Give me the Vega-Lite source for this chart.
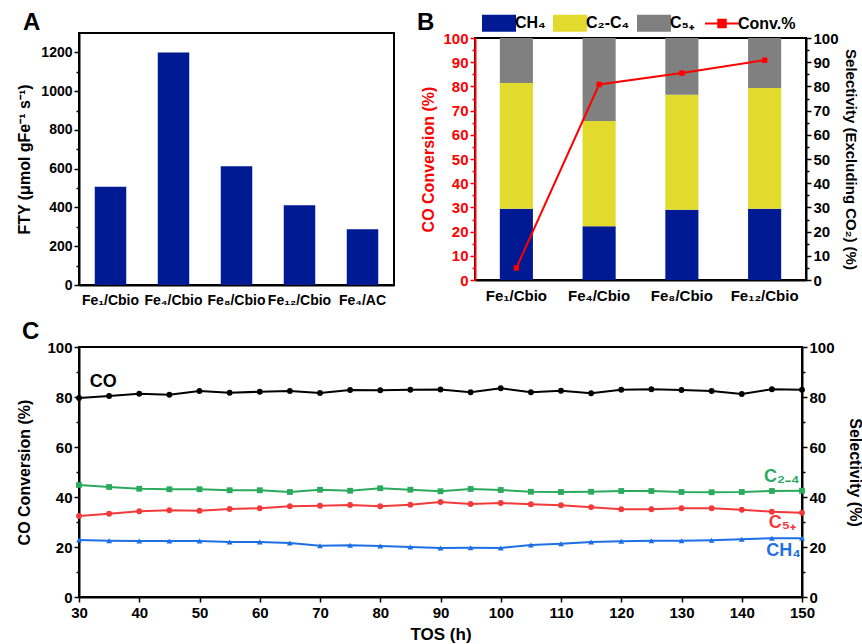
{
  "$schema": "https://vega.github.io/schema/vega-lite/v6.json",
  "background": "white",
  "padding": {"left": 15, "top": 10, "right": 0, "bottom": 0},
  "config": {
    "font": "Liberation Sans",
    "view": {"stroke": "black", "strokeWidth": 2},
    "axis": {
      "labelFont": "Liberation Sans", "labelFontWeight": "bold", "labelFontSize": 14, "labelColor": "black",
      "titleFont": "Liberation Sans", "titleFontWeight": "bold", "titleFontSize": 16, "titleColor": "black",
      "domainColor": "black", "domainWidth": 2, "tickColor": "black", "tickWidth": 1.5, "tickSize": 5,
      "grid": false, "labelOverlap": false, "labelFlush": false, "zindex": 1
    },
    "title": {"font": "Liberation Sans", "fontSize": 24, "fontWeight": "bold", "anchor": "start", "frame": "group", "offset": 3, "color": "black"}
  },
  "datasets": {
    "fty": [
      {"catalyst": "Fe₁/Cbio", "fty": 507},
      {"catalyst": "Fe₄/Cbio", "fty": 1200},
      {"catalyst": "Fe₈/Cbio", "fty": 612},
      {"catalyst": "Fe₁₂/Cbio", "fty": 412},
      {"catalyst": "Fe₄/AC", "fty": 288}
    ],
    "sel": [
      {"catalyst": "Fe₁/Cbio", "comp": "CH₄", "value": 29.4},
      {"catalyst": "Fe₁/Cbio", "comp": "C₂-C₄", "value": 52.0},
      {"catalyst": "Fe₁/Cbio", "comp": "C₅₊", "value": 18.6},
      {"catalyst": "Fe₄/Cbio", "comp": "CH₄", "value": 22.2},
      {"catalyst": "Fe₄/Cbio", "comp": "C₂-C₄", "value": 43.5},
      {"catalyst": "Fe₄/Cbio", "comp": "C₅₊", "value": 34.3},
      {"catalyst": "Fe₈/Cbio", "comp": "CH₄", "value": 29.0},
      {"catalyst": "Fe₈/Cbio", "comp": "C₂-C₄", "value": 47.6},
      {"catalyst": "Fe₈/Cbio", "comp": "C₅₊", "value": 23.4},
      {"catalyst": "Fe₁₂/Cbio", "comp": "CH₄", "value": 29.4},
      {"catalyst": "Fe₁₂/Cbio", "comp": "C₂-C₄", "value": 49.9},
      {"catalyst": "Fe₁₂/Cbio", "comp": "C₅₊", "value": 20.7}
    ],
    "conv": [
      {"catalyst": "Fe₁/Cbio", "conv": 5.0},
      {"catalyst": "Fe₄/Cbio", "conv": 80.8},
      {"catalyst": "Fe₈/Cbio", "conv": 85.5},
      {"catalyst": "Fe₁₂/Cbio", "conv": 90.8}
    ],
    "tos": [
      {"tos": 30, "series": "CO", "v": 79.6}, {"tos": 35, "series": "CO", "v": 80.4}, {"tos": 40, "series": "CO", "v": 81.3}, {"tos": 45, "series": "CO", "v": 80.9}, {"tos": 50, "series": "CO", "v": 82.4},
      {"tos": 55, "series": "CO", "v": 81.7}, {"tos": 60, "series": "CO", "v": 82.1}, {"tos": 65, "series": "CO", "v": 82.4}, {"tos": 70, "series": "CO", "v": 81.6}, {"tos": 75, "series": "CO", "v": 82.8},
      {"tos": 80, "series": "CO", "v": 82.7}, {"tos": 85, "series": "CO", "v": 82.9}, {"tos": 90, "series": "CO", "v": 83.0}, {"tos": 95, "series": "CO", "v": 81.9}, {"tos": 100, "series": "CO", "v": 83.5},
      {"tos": 105, "series": "CO", "v": 81.9}, {"tos": 110, "series": "CO", "v": 82.5}, {"tos": 115, "series": "CO", "v": 81.5}, {"tos": 120, "series": "CO", "v": 82.9}, {"tos": 125, "series": "CO", "v": 83.1},
      {"tos": 130, "series": "CO", "v": 82.8}, {"tos": 135, "series": "CO", "v": 82.4}, {"tos": 140, "series": "CO", "v": 81.2}, {"tos": 145, "series": "CO", "v": 83.1}, {"tos": 150, "series": "CO", "v": 82.9},
      {"tos": 30, "series": "C2-4", "v": 44.8}, {"tos": 35, "series": "C2-4", "v": 44.0}, {"tos": 40, "series": "C2-4", "v": 43.3}, {"tos": 45, "series": "C2-4", "v": 43.1}, {"tos": 50, "series": "C2-4", "v": 43.1},
      {"tos": 55, "series": "C2-4", "v": 42.7}, {"tos": 60, "series": "C2-4", "v": 42.7}, {"tos": 65, "series": "C2-4", "v": 42.0}, {"tos": 70, "series": "C2-4", "v": 42.9}, {"tos": 75, "series": "C2-4", "v": 42.5},
      {"tos": 80, "series": "C2-4", "v": 43.5}, {"tos": 85, "series": "C2-4", "v": 42.9}, {"tos": 90, "series": "C2-4", "v": 42.3}, {"tos": 95, "series": "C2-4", "v": 43.2}, {"tos": 100, "series": "C2-4", "v": 42.8},
      {"tos": 105, "series": "C2-4", "v": 42.1}, {"tos": 110, "series": "C2-4", "v": 42.0}, {"tos": 115, "series": "C2-4", "v": 42.1}, {"tos": 120, "series": "C2-4", "v": 42.4}, {"tos": 125, "series": "C2-4", "v": 42.4},
      {"tos": 130, "series": "C2-4", "v": 42.0}, {"tos": 135, "series": "C2-4", "v": 41.9}, {"tos": 140, "series": "C2-4", "v": 42.0}, {"tos": 145, "series": "C2-4", "v": 42.4}, {"tos": 150, "series": "C2-4", "v": 42.5},
      {"tos": 30, "series": "C5+", "v": 32.4}, {"tos": 35, "series": "C5+", "v": 33.3}, {"tos": 40, "series": "C5+", "v": 34.3}, {"tos": 45, "series": "C5+", "v": 34.7}, {"tos": 50, "series": "C5+", "v": 34.5},
      {"tos": 55, "series": "C5+", "v": 35.2}, {"tos": 60, "series": "C5+", "v": 35.5}, {"tos": 65, "series": "C5+", "v": 36.3}, {"tos": 70, "series": "C5+", "v": 36.5}, {"tos": 75, "series": "C5+", "v": 36.8},
      {"tos": 80, "series": "C5+", "v": 36.3}, {"tos": 85, "series": "C5+", "v": 36.9}, {"tos": 90, "series": "C5+", "v": 38.0}, {"tos": 95, "series": "C5+", "v": 37.2}, {"tos": 100, "series": "C5+", "v": 37.6},
      {"tos": 105, "series": "C5+", "v": 37.1}, {"tos": 110, "series": "C5+", "v": 36.7}, {"tos": 115, "series": "C5+", "v": 35.9}, {"tos": 120, "series": "C5+", "v": 35.1}, {"tos": 125, "series": "C5+", "v": 35.1},
      {"tos": 130, "series": "C5+", "v": 35.5}, {"tos": 135, "series": "C5+", "v": 35.5}, {"tos": 140, "series": "C5+", "v": 34.9}, {"tos": 145, "series": "C5+", "v": 34.1}, {"tos": 150, "series": "C5+", "v": 33.7},
      {"tos": 30, "series": "CH4", "v": 22.8}, {"tos": 35, "series": "CH4", "v": 22.5}, {"tos": 40, "series": "CH4", "v": 22.4}, {"tos": 45, "series": "CH4", "v": 22.4}, {"tos": 50, "series": "CH4", "v": 22.4},
      {"tos": 55, "series": "CH4", "v": 22.0}, {"tos": 60, "series": "CH4", "v": 22.0}, {"tos": 65, "series": "CH4", "v": 21.6}, {"tos": 70, "series": "CH4", "v": 20.5}, {"tos": 75, "series": "CH4", "v": 20.7},
      {"tos": 80, "series": "CH4", "v": 20.4}, {"tos": 85, "series": "CH4", "v": 20.0}, {"tos": 90, "series": "CH4", "v": 19.6}, {"tos": 95, "series": "CH4", "v": 19.7}, {"tos": 100, "series": "CH4", "v": 19.6},
      {"tos": 105, "series": "CH4", "v": 20.8}, {"tos": 110, "series": "CH4", "v": 21.3}, {"tos": 115, "series": "CH4", "v": 22.0}, {"tos": 120, "series": "CH4", "v": 22.3}, {"tos": 125, "series": "CH4", "v": 22.5},
      {"tos": 130, "series": "CH4", "v": 22.5}, {"tos": 135, "series": "CH4", "v": 22.7}, {"tos": 140, "series": "CH4", "v": 23.1}, {"tos": 145, "series": "CH4", "v": 23.5}, {"tos": 150, "series": "CH4", "v": 23.5}
    ],
    "lblLeft": [
      {"tos": 31.8, "v": 85.9, "label": "CO", "series": "CO"}
    ],
    "lblRight": [
      {"tos": 149.6, "v": 48.0, "label": "C₂₋₄", "series": "C2-4"},
      {"tos": 149.0, "v": 29.6, "label": "C₅₊", "series": "C5+"},
      {"tos": 149.8, "v": 18.4, "label": "CH₄", "series": "CH4"}
    ]
  },
  "spacing": 11,
  "resolve": {"scale": {"color": "independent", "shape": "independent"}, "legend": {"color": "independent", "shape": "independent"}},
  "vconcat": [
    {
      "bounds": "flush",
      "spacing": 81,
      "center": true,
      "resolve": {"scale": {"color": "independent"}, "legend": {"color": "independent"}},
      "hconcat": [
        {
          "width": 315,
          "height": 252,
          "title": {"text": "A", "dx": -56, "offset": -2},
          "data": {"name": "fty"},
          "mark": {"type": "bar", "color": "#001A94"},
          "encoding": {
            "x": {
              "field": "catalyst", "type": "nominal", "sort": null,
              "scale": {"paddingInner": 0.5, "paddingOuter": 0.25},
              "axis": {"title": null, "labelAngle": 0, "ticks": false, "labelPadding": 8, "labelFontSize": 14}
            },
            "y": {
              "field": "fty", "type": "quantitative",
              "scale": {"domain": [0, 1300], "nice": false},
              "axis": {
                "title": "FTY (μmol gFe⁻¹ s⁻¹)", "format": "d",
                "values": [0, 100, 200, 300, 400, 500, 600, 700, 800, 900, 1000, 1100, 1200],
                "labelExpr": "datum.value % 200 === 0 ? datum.label : ''",
                "tickSize": {"condition": {"test": "datum.value % 200 === 0", "value": 5}, "value": 3},
                "titlePadding": 8, "labelFontSize": 14
              }
            }
          }
        },
        {
          "width": 331,
          "height": 242,
          "layer": [
            {
              "data": {"name": "sel"},
              "mark": {"type": "bar"},
              "encoding": {
                "x": {
                  "field": "catalyst", "type": "nominal", "sort": null,
                  "scale": {"domain": ["Fe₁/Cbio", "Fe₄/Cbio", "Fe₈/Cbio", "Fe₁₂/Cbio"], "paddingInner": 0.6, "paddingOuter": 0.3},
                  "axis": {"title": null, "labelAngle": 0, "ticks": false, "labelPadding": 8, "labelFontSize": 15}
                },
                "y": {
                  "field": "value", "type": "quantitative", "stack": "zero",
                  "scale": {"domain": [0, 100], "nice": false},
                  "axis": {
                    "orient": "right", "title": "Selectivity (Excluding CO₂) (%)",
                    "values": [0, 5, 10, 15, 20, 25, 30, 35, 40, 45, 50, 55, 60, 65, 70, 75, 80, 85, 90, 95, 100],
                    "labelExpr": "datum.value % 10 === 0 ? datum.label : ''",
                    "tickSize": {"condition": {"test": "datum.value % 10 === 0", "value": 5}, "value": 3},
                    "labelFontSize": 15, "titleFontSize": 15, "titlePadding": 4
                  }
                },
                "order": {"field": "comp", "type": "nominal", "sort": "ascending"},
                "color": {
                  "field": "comp", "type": "nominal",
                  "scale": {"domain": ["CH₄", "C₂-C₄", "C₅₊", "Conv.%"], "range": ["#001A94", "#E2DA2C", "#808080", "#FF0000"]},
                  "legend": {
                    "title": "B", "titleOrient": "left", "titleFontSize": 24, "titleFontWeight": "bold", "titleColor": "black",
                    "titleFont": "Liberation Sans", "titleAnchor": "middle", "titleBaseline": "middle", "titlePadding": 56,
                    "orient": "none", "legendX": -58, "legendY": -23, "direction": "horizontal", "padding": 0,
                    "symbolSize": 1156, "symbolType": "M-1,-0.5H1V0.5H-1Z",
                    "labelFont": "Liberation Sans", "labelFontSize": 16, "labelFontWeight": "bold", "labelColor": "black",
                    "columnPadding": 7, "labelOffset": 8,
                    "encode": {
                      "symbols": {
                        "update": {
                          "shape": {"signal": "datum.value === 'Conv.%' ? 'M-1,0H1M-0.22,-0.22H0.22V0.22H-0.22Z' : 'M-1,-0.5H1V0.5H-1Z'"},
                          "fill": {"scale": "color", "field": "value"},
                          "stroke": {"scale": "color", "field": "value"},
                          "strokeWidth": {"signal": "datum.value === 'Conv.%' ? 2 : 0"},
                          "opacity": {"value": 1},
                          "fillOpacity": {"value": 1}
                        }
                      }
                    }
                  }
                }
              }
            },
            {
              "data": {"name": "conv"},
              "mark": {"type": "line", "strokeWidth": 2, "point": {"shape": "square", "size": 30, "filled": true}},
              "encoding": {
                "x": {"field": "catalyst", "type": "nominal", "sort": null},
                "y": {
                  "field": "conv", "type": "quantitative",
                  "scale": {"domain": [0, 100], "nice": false},
                  "axis": {
                    "orient": "left", "title": "CO Conversion (%)",
                    "values": [0, 5, 10, 15, 20, 25, 30, 35, 40, 45, 50, 55, 60, 65, 70, 75, 80, 85, 90, 95, 100],
                    "labelExpr": "datum.value % 10 === 0 ? datum.label : ''",
                    "tickSize": {"condition": {"test": "datum.value % 10 === 0", "value": 5}, "value": 3},
                    "labelFontSize": 15, "titleFontSize": 16, "titlePadding": 6,
                    "labelColor": "#FF0000", "titleColor": "#FF0000", "domainColor": "#FF0000", "tickColor": "#FF0000"
                  }
                },
                "color": {"datum": "Conv.%"}
              }
            }
          ],
          "resolve": {"scale": {"y": "independent"}}
        }
      ]
    },
    {
      "width": 723,
      "height": 250,
      "title": {"text": "C", "dx": -57, "offset": -4},
      "layer": [
        {
          "data": {"name": "tos"},
          "mark": {"type": "line", "strokeWidth": 2},
          "encoding": {
            "x": {
              "field": "tos", "type": "quantitative",
              "scale": {"domain": [30, 150], "nice": false},
              "axis": {
                "title": "TOS (h)",
                "values": [30, 35, 40, 45, 50, 55, 60, 65, 70, 75, 80, 85, 90, 95, 100, 105, 110, 115, 120, 125, 130, 135, 140, 145, 150],
                "labelExpr": "datum.value % 10 === 0 ? datum.label : ''",
                "tickSize": {"condition": {"test": "datum.value % 10 === 0", "value": 5}, "value": 3},
                "labelFontSize": 15, "titleFontSize": 17, "labelPadding": 3, "titlePadding": 6
              }
            },
            "y": {
              "field": "v", "type": "quantitative",
              "scale": {"domain": [0, 100], "nice": false},
              "axis": {
                "orient": "left", "title": "CO Conversion (%)",
                "values": [0, 10, 20, 30, 40, 50, 60, 70, 80, 90, 100],
                "labelExpr": "datum.value % 20 === 0 ? datum.label : ''",
                "tickSize": {"condition": {"test": "datum.value % 20 === 0", "value": 5}, "value": 3},
                "labelFontSize": 15, "titleFontSize": 16, "titlePadding": 14
              }
            },
            "color": {
              "field": "series", "type": "nominal",
              "scale": {"domain": ["CO", "C2-4", "C5+", "CH4"], "range": ["#000000", "#2BAA5E", "#F23A3A", "#1E6FE6"]},
              "legend": null
            }
          }
        },
        {
          "data": {"name": "tos"},
          "mark": {"type": "point", "filled": true, "size": 34, "opacity": 1},
          "encoding": {
            "x": {"field": "tos", "type": "quantitative"},
            "y": {
              "field": "v", "type": "quantitative",
              "axis": {
                "orient": "right", "title": "Selectivity (%)",
                "values": [0, 10, 20, 30, 40, 50, 60, 70, 80, 90, 100],
                "labelExpr": "datum.value % 20 === 0 ? datum.label : ''",
                "tickSize": {"condition": {"test": "datum.value % 20 === 0", "value": 5}, "value": 3},
                "labelFontSize": 15, "titleFontSize": 16, "titlePadding": 12
              }
            },
            "color": {"field": "series", "type": "nominal", "legend": null},
            "shape": {
              "field": "series", "type": "nominal",
              "scale": {"domain": ["CO", "C2-4", "C5+", "CH4"], "range": ["circle", "square", "circle", "triangle-up"]},
              "legend": null
            }
          }
        },
        {
          "data": {"name": "lblLeft"},
          "mark": {"type": "text", "fontSize": 18, "fontWeight": "bold", "font": "Liberation Sans", "align": "left", "baseline": "middle"},
          "encoding": {
            "x": {"field": "tos", "type": "quantitative"},
            "y": {"field": "v", "type": "quantitative", "axis": null},
            "text": {"field": "label"},
            "color": {"field": "series", "type": "nominal", "legend": null}
          }
        },
        {
          "data": {"name": "lblRight"},
          "mark": {"type": "text", "fontSize": 18, "fontWeight": "bold", "font": "Liberation Sans", "align": "right", "baseline": "middle"},
          "encoding": {
            "x": {"field": "tos", "type": "quantitative"},
            "y": {"field": "v", "type": "quantitative", "axis": null},
            "text": {"field": "label"},
            "color": {"field": "series", "type": "nominal", "legend": null}
          }
        }
      ],
      "resolve": {"axis": {"y": "independent"}}
    }
  ]
}
